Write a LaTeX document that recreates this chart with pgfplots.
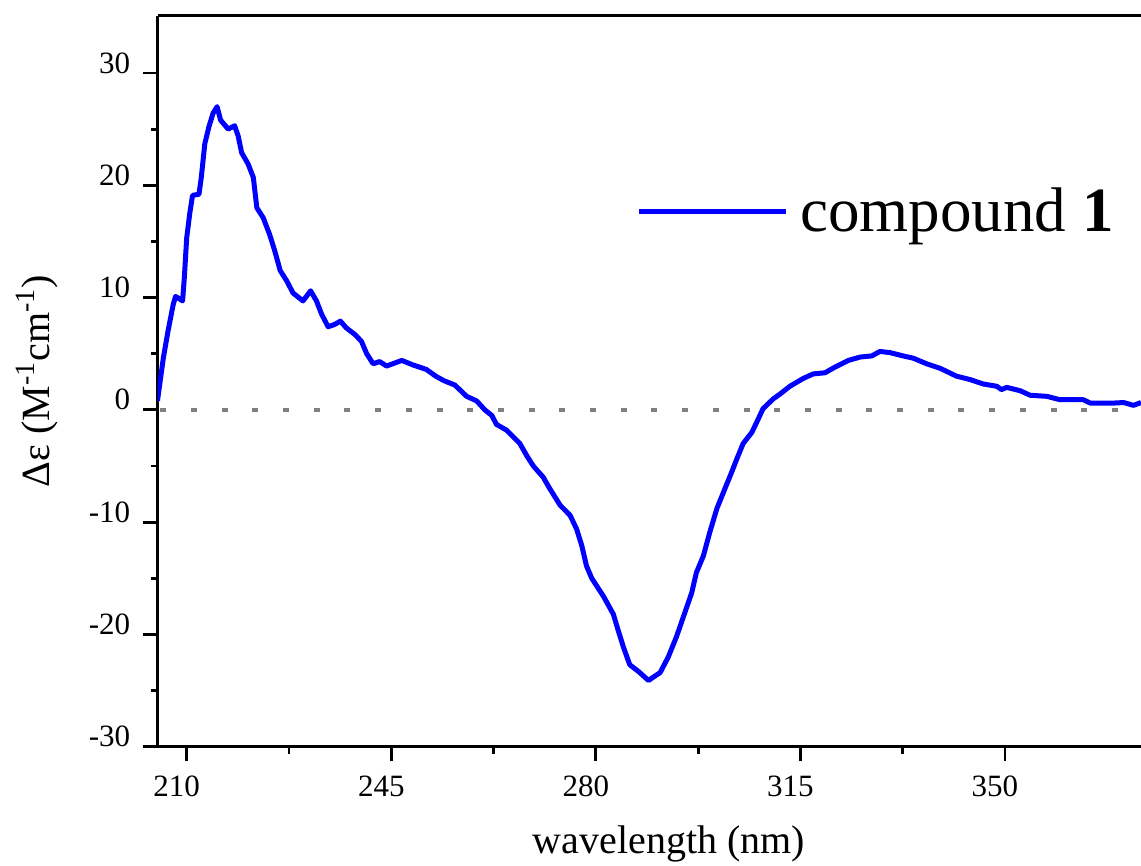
\documentclass[border=0pt]{standalone}
\usepackage{fontspec}
\setmainfont{Liberation Serif}
\usepackage{pgfplots}
\pgfplotsset{compat=1.18}
\definecolor{dotgray}{RGB}{128,128,128}
\begin{document}
\begin{tikzpicture}
\begin{axis}[
  scale only axis,
  width=491.65pt, height=365.5pt,
  xmin=205.04, xmax=373.27,
  ymin=-30, ymax=35.1,
  axis x line=box, axis y line=left,
  axis line style={-, line width=1.5pt, black},
  xtick pos=left, ytick pos=left,
  tick align=outside,
  xtick={210,245,280,315,350},
  ytick={-30,-20,-10,0,10,20,30},
  minor x tick num=1, minor y tick num=1,
  major tick length=7.2pt, minor tick length=3.4pt,
  every tick/.style={black, line width=1.4pt},
  /pgf/number format/assume math mode=true,
  ticklabel style={font=\fontsize{15.5}{18}\selectfont},
  xticklabel style={xshift=-5pt, yshift=-4pt},
  yticklabel style={yshift=5pt, xshift=-3pt},
  every axis x label/.style={at={([xshift=9.8pt,yshift=-53.2pt]rel axis cs:0.5,0)}, anchor=base},
  every axis y label/.style={at={([xshift=-53.85pt]rel axis cs:0,0.5)}, rotate=90, anchor=base},
  xlabel={wavelength (nm)},
  ylabel={Δε (M\textsuperscript{-1}cm\textsuperscript{-1})},
  label style={font=\fontsize{20}{24}\selectfont},
  legend style={at={(rel axis cs:0.4864,0.7328)}, anchor=west, draw=none, fill=none,
    inner sep=0pt, column sep=0pt, nodes={inner sep=0pt},
    font=\fontsize{31.5}{36}\selectfont},
  legend image code/.code={\draw[#1] (0pt,0pt) -- (73.5pt,0pt);},
]
\addplot[forget plot, dotgray, line width=2.2pt, dash pattern=on 3pt off 12.35pt, dash phase=14.1pt] coordinates {(205.04,0) (373.27,0)};
\addplot[blue, line width=2.5pt, line join=round] table {
x y
205.0 0.8
206.0 4.6
206.8 7.0
207.7 9.4
208.1 10.1
209.3 9.7
209.6 11.8
210.0 15.3
210.5 17.4
211.0 19.1
212.1 19.2
212.5 20.7
213.1 23.7
213.8 25.2
214.5 26.4
215.2 27.0
215.8 25.8
217.1 25.0
218.2 25.3
218.8 24.4
219.4 22.9
220.5 21.9
221.4 20.7
222.0 18.0
223.1 17.1
224.2 15.6
225.1 14.1
226.0 12.4
227.1 11.5
228.2 10.4
229.9 9.7
231.2 10.6
232.2 9.7
233.1 8.5
234.2 7.4
235.3 7.6
236.3 7.9
237.3 7.3
238.8 6.7
239.9 6.1
240.8 5.0
241.9 4.1
243.0 4.3
244.2 3.9
246.8 4.4
248.7 4.0
251.0 3.6
252.6 3.0
254.0 2.6
255.9 2.2
256.7 1.8
257.9 1.2
259.6 0.8
261.0 0.0
262.2 -0.5
263.0 -1.3
264.7 -1.8
267.0 -3.0
268.2 -4.1
269.3 -5.0
271.0 -6.0
272.1 -7.0
273.9 -8.5
275.6 -9.4
276.7 -10.6
277.6 -12.1
278.4 -13.9
279.3 -15.0
281.3 -16.6
283.0 -18.2
283.8 -19.6
284.7 -21.1
285.8 -22.7
287.3 -23.3
289.0 -24.1
291.0 -23.4
292.4 -22.0
293.8 -20.2
295.0 -18.4
296.4 -16.3
297.2 -14.5
298.4 -13.0
299.5 -10.9
300.7 -8.8
302.1 -7.0
303.2 -5.6
304.1 -4.4
305.2 -3.0
306.7 -2.0
307.8 -0.8
308.6 0.1
310.4 1.0
311.5 1.4
313.2 2.1
315.5 2.8
317.2 3.2
319.2 3.3
320.9 3.8
323.2 4.4
325.2 4.7
327.2 4.8
328.6 5.2
330.3 5.1
332.6 4.8
334.3 4.6
336.6 4.1
338.9 3.7
341.7 3.0
344.0 2.7
346.3 2.3
348.6 2.1
349.4 1.8
350.3 2.0
352.6 1.7
354.3 1.3
357.2 1.2
359.4 0.9
363.4 0.9
364.6 0.6
368.5 0.6
370.3 0.65
372.0 0.4
373.27 0.65
};
\addlegendentry{\hspace*{6pt}compound \textbf{1}}
\end{axis}
\pgfresetboundingbox
\path ([shift={(-78.85pt,-59.15pt)}]current axis.south west) rectangle ([shift={(0pt,7.85pt)}]current axis.north east);
\end{tikzpicture}
\end{document}
